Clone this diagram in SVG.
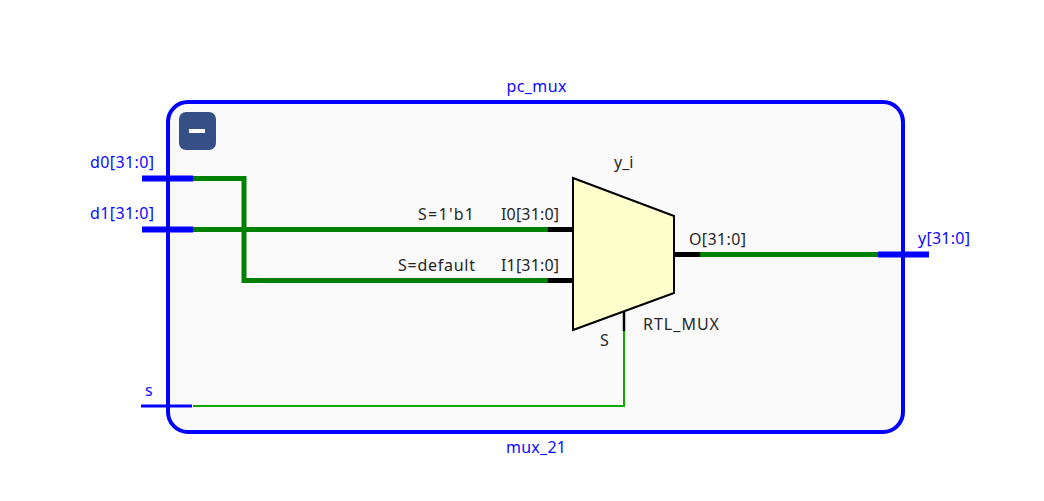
<svg xmlns="http://www.w3.org/2000/svg" width="1044" height="501" viewBox="0 0 1044 501">
<style>
text{font-family:"Noto Sans","Open Sans",sans-serif;font-size:16px}
.b{fill:#0a0aff}
.k{fill:#262626}
.w{fill:none;stroke:#008000;stroke-width:5}
.p{fill:none;stroke:#000;stroke-width:5}
.pb{fill:none;stroke:#0000ff;stroke-width:6}
</style>
<rect width="1044" height="501" fill="#fff"/>
<g id="pc_mux">
<rect x="168" y="102" width="735" height="330" rx="20" ry="20" fill="#fafafa" stroke="#0000ff" stroke-width="4"/>
<text class="b" x="506.500" y="92" textLength="60">pc_mux</text>
<text class="b" x="506" y="453" textLength="60">mux_21</text>
</g>
<g id="collapse">
<rect x="179" y="112" width="37" height="38" rx="7" fill="#355085"/>
<rect x="189" y="129" width="16" height="4" fill="#fff"/>
</g>
<g id="connectors">
<path class="w" d="M193 178.500H244V280.500H548"/>
<path class="w" d="M193 229.500H548"/>
<path class="w" d="M700 254.500H878"/>
<path d="M193 406H624V331" fill="none" stroke="#13a800" stroke-width="2"/>
</g>
<g id="port_d0">
<path class="pb" d="M142 178.500H193"/>
<text class="b" x="90" y="168" textLength="64">d0[31:0]</text>
</g>
<g id="port_d1">
<path class="pb" d="M142 229.500H193"/>
<text class="b" x="90" y="219" textLength="64">d1[31:0]</text>
</g>
<g id="port_s">
<path d="M141 406H192" fill="none" stroke="#0000ff" stroke-width="3"/>
<text class="b" x="145" y="396">s</text>
</g>
<g id="port_y">
<path class="pb" d="M878 254.500H929"/>
<text class="b" x="918" y="244" textLength="52">y[31:0]</text>
</g>
<g id="y_i">
<path class="p" d="M548 229.500H573M548 280.500H573M674 254.500H700"/>
<path d="M624 311V331" fill="none" stroke="#000" stroke-width="2.500"/>
<path d="M573 178L674 216V293L573 330Z" fill="#ffffcc" stroke="#000" stroke-width="2"/>
<text class="k" x="614" y="168">y_i</text>
<text class="k" x="418" y="220" textLength="56">S=1'b1</text>
<text class="k" x="398" y="271" textLength="77">S=default</text>
<text class="k" x="501" y="220" textLength="58">I0[31:0]</text>
<text class="k" x="501" y="271" textLength="58">I1[31:0]</text>
<text class="k" x="689" y="245" textLength="57">O[31:0]</text>
<text class="k" x="600" y="346">S</text>
<text class="k" x="643" y="330" textLength="76">RTL_MUX</text>
</g>
</svg>
